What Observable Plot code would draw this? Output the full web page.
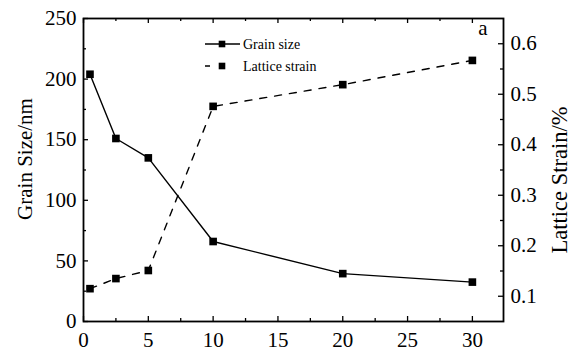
<!DOCTYPE html>
<html>
<head>
<meta charset="utf-8">
<script src="https://cdn.jsdelivr.net/npm/d3@7"></script>
<script src="https://cdn.jsdelivr.net/npm/@observablehq/plot@0.6"></script>
<style>
  html, body { margin: 0; padding: 0; background: #fff; }
  #chart { position: relative; width: 578px; height: 351px; }
  #chart svg, #chart svg text { font-family: "Liberation Serif", "Times New Roman", serif !important; }
</style>
</head>
<body>
<div id="chart"></div>
<script>
// ---- data ----
const milling = [0.5, 2.5, 5, 10, 20, 30];
const grainSize = [204, 151, 135, 66, 39.5, 32.5];
const latticeStrain = [0.115, 0.135, 0.151, 0.476, 0.519, 0.567];

const xMajor = [0, 5, 10, 15, 20, 25, 30];
const xMinor = [2.5, 7.5, 12.5, 17.5, 22.5, 27.5];
const gMajor = [0, 50, 100, 150, 200, 250];
const gMinor = [25, 75, 125, 175, 225];
const sMajor = [0.1, 0.2, 0.3, 0.4, 0.5, 0.6];
const sMinor = [0.15, 0.25, 0.35, 0.45, 0.55];

const seriesNames = ["Grain size", "Lattice strain"];
const yLabelLeft = "Grain Size/nm";
const yLabelRight = "Lattice Strain/%";
const panelLabel = "a";

// ---- scales ----
const xDomain = [0, 32.4];
const gDomain = [0, 250];
const sDomain = [0.05, 0.65];
const s2g = s => (s - sDomain[0]) / (sDomain[1] - sDomain[0]) * (gDomain[1] - gDomain[0]) + gDomain[0];
const g2s = g => (g - gDomain[0]) / (gDomain[1] - gDomain[0]) * (sDomain[1] - sDomain[0]) + sDomain[0];

const rows = milling.map((x, i) => ({x, g: grainSize[i], s: s2g(latticeStrain[i])}));

const W = 578, H = 351;
const mL = 83, mR = 75, mT = 18, mB = 30;
const iw = W - mL - mR, ih = H - mT - mB;
const maj = 5, mnr = 3;
const serif = "Liberation Serif, Times New Roman, serif";

const plot = Plot.plot({
  width: W, height: H,
  marginLeft: mL, marginRight: mR, marginTop: mT, marginBottom: mB,
  style: {fontFamily: serif, fontSize: "21px", background: "white", color: "black", overflow: "visible"},
  x: {domain: xDomain, axis: null},
  y: {domain: gDomain, axis: null},
  marks: [
    // inward ticks, bottom & top
    Plot.tickX(xMajor, {insetTop: ih - maj, stroke: "black", strokeWidth: 1.3}),
    Plot.tickX(xMinor, {insetTop: ih - mnr, stroke: "black", strokeWidth: 1.3}),
    Plot.tickX(xMajor, {insetBottom: ih - maj, stroke: "black", strokeWidth: 1.3}),
    Plot.tickX(xMinor, {insetBottom: ih - mnr, stroke: "black", strokeWidth: 1.3}),
    // inward ticks, left
    Plot.tickY(gMajor, {insetRight: iw - maj, stroke: "black", strokeWidth: 1.3}),
    Plot.tickY(gMinor, {insetRight: iw - mnr, stroke: "black", strokeWidth: 1.3}),
    // inward ticks, right (strain)
    Plot.tickY(sMajor.map(s2g), {insetLeft: iw - maj, stroke: "black", strokeWidth: 1.3}),
    Plot.tickY(sMinor.map(s2g), {insetLeft: iw - mnr, stroke: "black", strokeWidth: 1.3}),
    // axes labels
    Plot.axisX(xMajor, {tickSize: 0, tickPadding: 11, label: null, fontSize: 21, fontFamily: serif}),
    Plot.axisY(gMajor, {anchor: "left", tickSize: 0, tickPadding: 7, label: null, fontSize: 21, fontFamily: serif}),
    Plot.axisY(sMajor.map(s2g), {anchor: "right", tickSize: 0, tickPadding: 7, label: null, fontSize: 21, fontFamily: serif,
      tickFormat: d => g2s(d).toFixed(1)}),
    // series
    Plot.line(rows, {x: "x", y: "g", stroke: "black", strokeWidth: 1.4}),
    Plot.line(rows, {x: "x", y: "s", stroke: "black", strokeWidth: 1.4, strokeDasharray: "7,8"}),
    Plot.dot(rows, {x: "x", y: "g", symbol: "square", r: 4.3, fill: "black"}),
    Plot.dot(rows, {x: "x", y: "s", symbol: "square", r: 4.3, fill: "black"}),
    Plot.frame({stroke: "black", strokeWidth: 1.8})
  ]
});
document.getElementById("chart").appendChild(plot);

// ---- titles, legend, panel label ----
const svg = d3.select(plot);
svg.append("text").text(yLabelLeft)
  .attr("transform", "translate(32,159) rotate(-90)")
  .attr("text-anchor", "middle").attr("font-family", serif).attr("font-size", 21).attr("fill", "black");
svg.append("text").text(yLabelRight)
  .attr("transform", "translate(567,180) rotate(-90)")
  .attr("text-anchor", "middle").attr("font-family", serif).attr("font-size", 22.5).attr("fill", "black");
svg.append("text").text(panelLabel)
  .attr("x", 483).attr("y", 35).attr("text-anchor", "middle")
  .attr("font-family", serif).attr("font-size", 21).attr("fill", "black");

const lg = svg.append("g");
const legendRows = [{y: 44, x2: 240, dash: null}, {y: 66, x2: 232, dash: "5,9"}];
legendRows.forEach((r, i) => {
  lg.append("line").attr("x1", 205).attr("x2", r.x2).attr("y1", r.y).attr("y2", r.y)
    .attr("stroke", "black").attr("stroke-width", 1.4).attr("stroke-dasharray", r.dash);
  lg.append("rect").attr("x", 222 - 3.3).attr("y", r.y - 3.3).attr("width", 6.6).attr("height", 6.6).attr("fill", "black");
  lg.append("text").text(seriesNames[i]).attr("x", 243).attr("y", r.y + 5)
    .attr("text-anchor", "start")
    .attr("font-family", serif).attr("font-size", 14).attr("fill", "black");
});
</script>
</body>
</html>
